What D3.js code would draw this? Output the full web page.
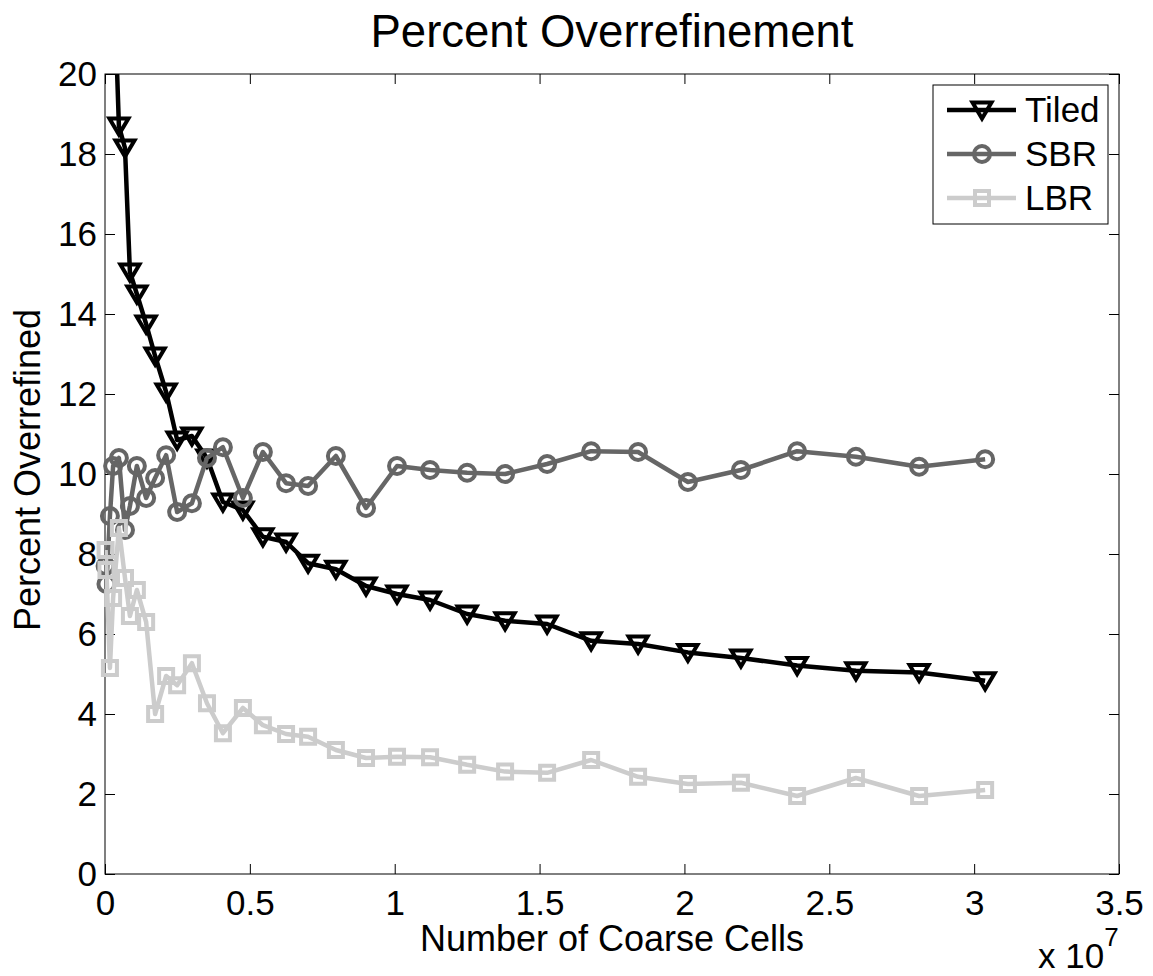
<!DOCTYPE html>
<html>
<head>
<meta charset="utf-8">
<script src="https://cdn.jsdelivr.net/npm/d3@7"></script>
<style>
  html,body{margin:0;padding:0;background:#fff;}
  svg{display:block;font-family:"Liberation Sans",Arial,sans-serif;}
</style>
</head>
<body>
<div id="chart"></div>
<script>
// coarse cell counts, in units of 1e7
const cells = [0.002,0.005,0.017,0.028,0.048,0.069,0.086,0.110,0.142,0.173,0.211,0.249,0.300,0.352,0.407,0.476,0.545,0.625,0.701,0.797,0.901,1.008,1.122,1.250,1.381,1.526,1.678,1.840,2.012,2.195,2.389,2.592,2.810,3.038];
const tiled = [null,null,null,23,18.7,18.15,15.05,14.5,13.75,12.95,12.05,10.85,10.95,10.4,9.3,9.1,8.43,8.3,7.77,7.62,7.2,7.0,6.85,6.5,6.33,6.25,5.83,5.75,5.54,5.4,5.21,5.08,5.04,4.83];
const sbr   = [7.7,7.25,8.95,10.2,10.4,8.6,9.2,10.2,9.4,9.9,10.47,9.05,9.27,10.4,10.67,9.4,10.55,9.77,9.7,10.45,9.15,10.2,10.1,10.03,10.0,10.25,10.57,10.55,9.8,10.1,10.57,10.43,10.18,10.37];
const lbr   = [8.1,7.6,5.15,6.9,8.65,7.4,6.45,7.1,6.3,4.0,4.95,4.72,5.27,4.27,3.52,4.15,3.72,3.5,3.43,3.1,2.9,2.93,2.92,2.73,2.56,2.53,2.85,2.43,2.25,2.28,1.95,2.4,1.95,2.1];
const seriesNames = ["Tiled","SBR","LBR"];
const xTicks = [0,0.5,1,1.5,2,2.5,3,3.5];
const yTicks = [0,2,4,6,8,10,12,14,16,18,20];

const W=1153, H=976;
const MG={t:74,r:34,b:102,l:105};
const iW=W-MG.l-MG.r, iH=H-MG.t-MG.b;

const styles = {
  Tiled:{color:"#000000", marker:"tri"},
  SBR:{color:"#666666", marker:"circle"},
  LBR:{color:"#cccccc", marker:"square"}
};
const values = {Tiled:tiled, SBR:sbr, LBR:lbr};

const svg=d3.select("#chart").append("svg").attr("width",W).attr("height",H);
const g=svg.append("g").attr("transform",`translate(${MG.l},${MG.t})`);

const xSc=d3.scaleLinear().domain([0,3.5]).range([0,iW]);
const ySc=d3.scaleLinear().domain([0,20]).range([iH,0]);

svg.append("defs").append("clipPath").attr("id","plotclip")
  .append("rect").attr("width",iW).attr("height",iH);

// axes, ticks pointing inward on all four sides
const axStyle = sel => {
  sel.select(".domain").remove();
  sel.selectAll("line").attr("stroke","#000").attr("stroke-width",1);
  sel.selectAll("text").attr("fill","#000").attr("font-size",35).attr("font-family","'Liberation Sans',Arial,sans-serif");
};
g.append("g").attr("transform",`translate(0,${iH})`)
  .call(d3.axisBottom(xSc).tickValues(xTicks).tickSizeInner(-10).tickSizeOuter(0).tickPadding(16).tickFormat(d=>d))
  .call(axStyle);
g.append("g")
  .call(d3.axisLeft(ySc).tickValues(yTicks).tickSizeInner(-10).tickSizeOuter(0).tickPadding(8).tickFormat(d=>d))
  .call(axStyle);
g.append("g").call(d3.axisTop(xSc).tickValues(xTicks).tickSizeInner(-10).tickSizeOuter(0).tickFormat(""))
  .call(axStyle);
g.append("g").attr("transform",`translate(${iW},0)`)
  .call(d3.axisRight(ySc).tickValues(yTicks).tickSizeInner(-10).tickSizeOuter(0).tickFormat(""))
  .call(axStyle);
g.append("rect").attr("width",iW).attr("height",iH).attr("fill","none").attr("stroke","#000").attr("stroke-width",1);

function markerPath(type){
  if(type==="tri") return "M-9.5,-7.5L9.5,-7.5L0,8.5Z";
  if(type==="square") return "M-7,-7H7V7H-7Z";
  return "M8,0A8,8 0 1,1 -8,0A8,8 0 1,1 8,0Z";
}

const line=d3.line().defined(d=>d[1]!=null).x(d=>xSc(d[0])).y(d=>ySc(d[1]));

seriesNames.forEach(name=>{
  const st=styles[name];
  const pts=cells.map((c,i)=>[c,values[name][i]]);
  const sg=g.append("g");
  sg.append("path").attr("clip-path","url(#plotclip)")
    .attr("d",line(pts)).attr("fill","none").attr("stroke",st.color)
    .attr("stroke-width",4.5).attr("stroke-linejoin","round");
  sg.selectAll("path.mk").data(pts.filter(d=>d[1]!=null && d[1]<=20)).join("path").attr("class","mk")
    .attr("transform",d=>`translate(${xSc(d[0])},${ySc(d[1])})`)
    .attr("d",markerPath(st.marker)).attr("fill","none").attr("stroke",st.color).attr("stroke-width",4);
});

// legend
const leg=svg.append("g").attr("transform","translate(933,85)");
leg.append("rect").attr("width",175).attr("height",139).attr("fill","#fff").attr("stroke","#000").attr("stroke-width",1);
seriesNames.forEach((name,i)=>{
  const st=styles[name], y=25+i*44;
  leg.append("line").attr("x1",14).attr("x2",83).attr("y1",y).attr("y2",y).attr("stroke",st.color).attr("stroke-width",4.5);
  leg.append("path").attr("transform",`translate(49,${y})`).attr("d",markerPath(st.marker))
    .attr("fill","none").attr("stroke",st.color).attr("stroke-width",4);
  leg.append("text").attr("x",92).attr("y",y).attr("dy","0.35em").attr("font-size",35).attr("fill","#000").text(name);
});

// titles
svg.append("text").attr("x",MG.l+iW/2).attr("y",47).attr("text-anchor","middle").attr("font-size",45.5).text("Percent Overrefinement");
svg.append("text").attr("x",MG.l+iW/2).attr("y",951).attr("text-anchor","middle").attr("font-size",36).text("Number of Coarse Cells");
svg.append("text").attr("transform",`translate(40,${MG.t+iH/2-4}) rotate(-90)`).attr("text-anchor","middle").attr("font-size",36).text("Percent Overrefined");
const ex=svg.append("text").attr("x",1038).attr("y",968).attr("font-size",35);
ex.append("tspan").text("x 10");
ex.append("tspan").attr("dy",-22).attr("font-size",26).text("7");
</script>
</body>
</html>
